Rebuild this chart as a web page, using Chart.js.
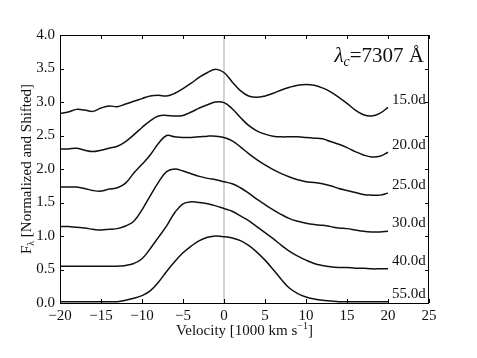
<!DOCTYPE html>
<html>
<head>
<meta charset="utf-8">
<script src="https://cdn.jsdelivr.net/npm/chart.js@4"></script>
<style>
  html, body { margin: 0; padding: 0; background: #fff; }
  #wrap { width: 477px; height: 358px; }
</style>
</head>
<body>
<div id="wrap"><canvas id="specChart" width="477" height="358"></canvas></div>
<script>
// ---------- DATA ----------
const velocity = [-20,-19,-18,-17,-16,-15,-14,-13,-12,-11,-10,-9,-8,-7,-6,-5,-4,-3,-2,-1,0,
                  1,2,3,4,5,6,7,8,9,10,11,12,13,14,15,16,17,18,19,20];

const epochs = ["15.0d", "20.0d", "25.0d", "30.0d", "40.0d", "55.0d"];

const flux15 = [2.83,2.85,2.89,2.88,2.86,2.91,2.94,2.93,2.97,3.01,3.05,3.09,3.10,3.09,3.13,3.20,3.28,3.37,3.44,3.49,3.44,
                3.30,3.17,3.09,3.07,3.09,3.13,3.18,3.22,3.25,3.26,3.25,3.21,3.15,3.07,2.98,2.88,2.81,2.79,2.83,2.92];
const flux20 = [2.30,2.30,2.31,2.28,2.26,2.28,2.31,2.34,2.41,2.51,2.62,2.72,2.79,2.80,2.79,2.80,2.85,2.91,2.96,3.00,2.99,
                2.90,2.77,2.65,2.57,2.52,2.49,2.48,2.48,2.48,2.47,2.46,2.45,2.41,2.37,2.32,2.26,2.21,2.18,2.19,2.25];
const flux25 = [1.73,1.73,1.73,1.71,1.68,1.67,1.70,1.72,1.79,1.94,2.07,2.21,2.38,2.50,2.48,2.47,2.47,2.48,2.49,2.49,2.47,
                2.42,2.33,2.23,2.14,2.06,1.99,1.93,1.88,1.84,1.81,1.80,1.78,1.75,1.71,1.68,1.65,1.62,1.61,1.61,1.64];
const flux30 = [1.14,1.14,1.13,1.12,1.10,1.09,1.10,1.11,1.15,1.22,1.39,1.60,1.80,1.96,2.00,1.97,1.93,1.89,1.86,1.84,1.81,
                1.78,1.72,1.64,1.55,1.47,1.39,1.32,1.26,1.22,1.19,1.17,1.16,1.14,1.12,1.11,1.09,1.07,1.06,1.06,1.07];
const flux40 = [0.55,0.55,0.55,0.55,0.55,0.55,0.55,0.55,0.56,0.59,0.66,0.81,0.98,1.15,1.35,1.48,1.51,1.50,1.48,1.45,1.41,
                1.37,1.30,1.23,1.14,1.05,0.96,0.86,0.77,0.70,0.64,0.59,0.56,0.54,0.53,0.53,0.52,0.52,0.51,0.51,0.51];
const flux55 = [0.02,0.02,0.02,0.02,0.02,0.02,0.02,0.02,0.04,0.07,0.11,0.18,0.31,0.47,0.62,0.75,0.85,0.93,0.98,1.00,0.99,
                0.97,0.93,0.86,0.76,0.64,0.50,0.35,0.22,0.14,0.09,0.06,0.04,0.03,0.02,0.02,0.02,0.02,0.02,0.02,0.02];

const labelX = 20.5;
const labelY = [3.03, 2.36, 1.76, 1.19, 0.63, 0.13];

const xTicks = [-20, -15, -10, -5, 0, 5, 10, 15, 20, 25];
const yTicks = [0.0, 0.5, 1.0, 1.5, 2.0, 2.5, 3.0, 3.5, 4.0];

const allFlux = [flux15, flux20, flux25, flux30, flux40, flux55];

const SERIF = "'Liberation Serif', 'DejaVu Serif', serif";

// ---------- DRAW EXTRAS: box, inward ticks, zero line, texts ----------
const extras = {
  id: "extras",
  beforeDatasetsDraw(chart) {
    const { ctx, chartArea: a, scales: { x } } = chart;
    ctx.save();
    ctx.strokeStyle = "#c4c4cc";
    ctx.lineWidth = 1.5;
    const zx = x.getPixelForValue(0);
    ctx.beginPath();
    ctx.moveTo(zx, a.top);
    ctx.lineTo(zx, a.bottom);
    ctx.stroke();
    ctx.restore();
  },
  afterDraw(chart) {
    const { ctx, chartArea: a, scales: { x, y } } = chart;
    ctx.save();
    ctx.strokeStyle = "#000";
    ctx.lineWidth = 1;
    ctx.strokeRect(a.left + 0.5, a.top + 0.5, a.right - a.left - 1, a.bottom - a.top);

    const tl = 4;
    ctx.beginPath();
    xTicks.forEach(v => {
      const px = Math.round(x.getPixelForValue(v)) + 0.5;
      ctx.moveTo(px, a.bottom); ctx.lineTo(px, a.bottom - tl);
      ctx.moveTo(px, a.top); ctx.lineTo(px, a.top + tl);
    });
    yTicks.forEach(v => {
      const py = Math.round(y.getPixelForValue(v)) + 0.5;
      ctx.moveTo(a.left, py); ctx.lineTo(a.left + tl, py);
      ctx.moveTo(a.right, py); ctx.lineTo(a.right - tl, py);
    });
    ctx.stroke();

    // epoch labels
    ctx.fillStyle = "#111";
    ctx.font = "15px " + SERIF;
    ctx.textAlign = "left";
    ctx.textBaseline = "middle";
    epochs.forEach((lab, i) => {
      ctx.fillText(lab, x.getPixelForValue(labelX), y.getPixelForValue(labelY[i]));
    });

    // lambda_c title
    ctx.textBaseline = "alphabetic";
    const rest = "=7307 Å";
    ctx.font = "21px " + SERIF;
    const wRest = ctx.measureText(rest).width;
    ctx.font = "italic 14px " + SERIF;
    const wSub = ctx.measureText("c").width;
    ctx.font = "italic 21px " + SERIF;
    const wLam = ctx.measureText("λ").width;
    let tx = a.right - 5 - wRest - wSub - wLam;
    const ty = 62;
    ctx.fillText("λ", tx, ty); tx += wLam;
    ctx.font = "italic 14px " + SERIF;
    ctx.fillText("c", tx, ty + 4); tx += wSub;
    ctx.font = "21px " + SERIF;
    ctx.fillText(rest, tx, ty);

    // x axis title
    ctx.font = "15px " + SERIF;
    const xa = "Velocity [1000 km s";
    const xb = "]";
    const wxa = ctx.measureText(xa).width;
    ctx.font = "10px " + SERIF;
    const wsup = ctx.measureText("−1").width;
    ctx.font = "15px " + SERIF;
    const wxb = ctx.measureText(xb).width;
    let lx = (a.left + a.right) / 2 - (wxa + wsup + wxb) / 2;
    const ly = 335;
    ctx.fillText(xa, lx, ly); lx += wxa;
    ctx.font = "10px " + SERIF;
    ctx.fillText("−1", lx, ly - 6); lx += wsup;
    ctx.font = "15px " + SERIF;
    ctx.fillText(xb, lx, ly);

    // y axis title
    ctx.translate(31, (a.top + a.bottom) / 2);
    ctx.rotate(-Math.PI / 2);
    ctx.font = "15px " + SERIF;
    const ya = "F";
    const yb = " [Normalized and Shifted]";
    const wya = ctx.measureText(ya).width;
    const wyb = ctx.measureText(yb).width;
    ctx.font = "10px " + SERIF;
    const wyl = ctx.measureText("λ").width;
    let yx = -(wya + wyl + wyb) / 2;
    ctx.font = "15px " + SERIF;
    ctx.fillText(ya, yx, 0); yx += wya;
    ctx.font = "10px " + SERIF;
    ctx.fillText("λ", yx, 3); yx += wyl;
    ctx.font = "15px " + SERIF;
    ctx.fillText(yb, yx, 0);
    ctx.restore();
  }
};

// ---------- CHART ----------
new Chart(document.getElementById("specChart"), {
  type: "line",
  data: {
    datasets: allFlux.map((f, i) => ({
      label: epochs[i],
      data: velocity.map((v, j) => ({ x: v, y: f[j] })),
      borderColor: "#111",
      borderWidth: 1.5,
      pointRadius: 0,
      tension: 0.4,
      fill: false
    }))
  },
  options: {
    responsive: false,
    animation: false,
    layout: { padding: { left: 0, right: 48, top: 35, bottom: 0 } },
    plugins: { legend: { display: false }, tooltip: { enabled: false } },
    scales: {
      x: {
        type: "linear",
        min: -20,
        max: 25,
        afterFit: s => { s.height = 55; },
        afterBuildTicks: s => { s.ticks = xTicks.map(v => ({ value: v })); },
        grid: { display: false, drawTicks: false },
        border: { display: false },
        ticks: {
          padding: 4,
          color: "#111",
          font: { family: SERIF, size: 15 },
          callback: v => String(v).replace("-", "−")
        }
      },
      y: {
        min: 0,
        max: 4,
        afterFit: s => { s.width = 60; },
        afterBuildTicks: s => { s.ticks = yTicks.map(v => ({ value: v })); },
        grid: { display: false, drawTicks: false },
        border: { display: false },
        ticks: {
          padding: 5,
          color: "#111",
          font: { family: SERIF, size: 15 },
          callback: v => Number(v).toFixed(1)
        }
      }
    }
  },
  plugins: [extras]
});
</script>
</body>
</html>
